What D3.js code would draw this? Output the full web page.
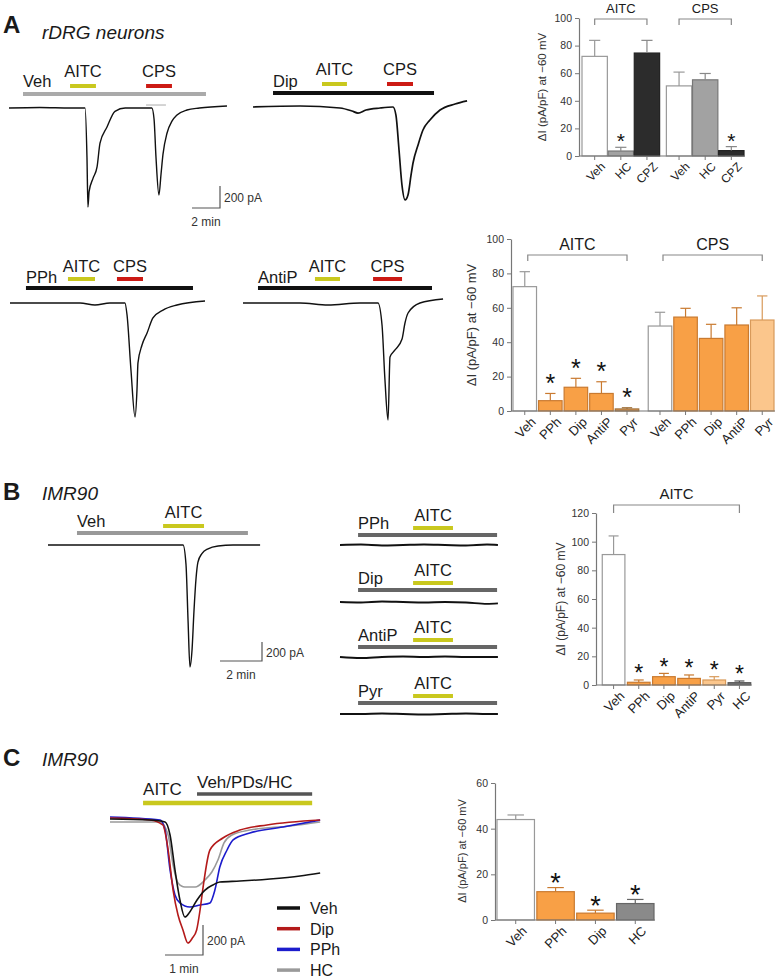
<!DOCTYPE html>
<html><head><meta charset="utf-8">
<script src="https://cdn.jsdelivr.net/npm/d3@7"></script>
<style>body{margin:0;background:#fff}</style>
</head><body>
<script>
// ================= DATA =================
// Panel A, top-right bar chart (rDRG neurons)
const aTopGroups = ["AITC", "CPS"];
const aTopTreat = ["Veh", "HC", "CPZ"];
const aTopAITC = [72.2, 3.6, 74.6];
const aTopAITCErr = [11.6, 2.7, 9.2];
const aTopCPS = [50.8, 55.2, 3.9];
const aTopCPSErr = [10, 4.6, 2.9];
const aTopSigAITC = [0, 1, 0];
const aTopSigCPS = [0, 0, 1];
const aTopTicks = [0, 20, 40, 60, 80, 100];

// Panel A, bottom-right bar chart
const aBotGroups = ["AITC", "CPS"];
const aBotTreat = ["Veh", "PPh", "Dip", "AntiP", "Pyr"];
const aBotAITC = [72.3, 6, 13.8, 10.2, 1.2];
const aBotAITCErr = [8.7, 4.2, 5.2, 6.8, 0.7];
const aBotCPS = [49.4, 54.6, 42.2, 50, 52.9];
const aBotCPSErr = [8, 5.1, 8.2, 10, 14];
const aBotSigAITC = [0, 1, 1, 1, 1];
const aBotTicks = [0, 20, 40, 60, 80, 100];

// Panel B bar chart (IMR90)
const bTreat = ["Veh", "PPh", "Dip", "AntiP", "Pyr", "HC"];
const bAITC = [91, 1.9, 5.8, 4.6, 3.5, 1.6];
const bAITCErr = [13, 1.6, 2.3, 2.4, 2.3, 1.2];
const bSig = [0, 1, 1, 1, 1, 1];
const bTicks = [0, 20, 40, 60, 80, 100, 120];

// Panel C bar chart
const cTreat = ["Veh", "PPh", "Dip", "HC"];
const cAITC = [44, 12.4, 3, 7.2];
const cAITCErr = [2, 1.8, 1.3, 1.8];
const cSig = [0, 1, 1, 1];
const cTicks = [0, 20, 40, 60];

// Current traces: [time (min), current (pA)]
const trAVeh = [[0,0],[2.2,5],[4.4,0],[5.43,0],[5.57,-450],[5.64,-900],[5.72,-760],[6.0,-640],[6.29,-536],[6.5,-320],[7.0,-173],[7.57,-30],[8.3,0],[10.2,0],[10.36,-100],[10.5,-450],[10.71,-791],[10.86,-600],[11.0,-420],[11.29,-227],[11.64,-120],[12.0,-64],[12.71,-18],[13.6,0],[15.57,18]];
const trAVehMark = [[9.79,27],[11.21,27]];
const trADip = [[0,0],[3.36,9],[6.21,-9],[7.07,-36],[7.5,-55],[8.07,-27],[9.07,-9],[10.0,0],[10.21,-73],[10.43,-391],[10.64,-709],[10.86,-845],[11.07,-800],[11.29,-618],[11.43,-509],[11.79,-345],[12.14,-209],[12.64,-118],[13.36,-27],[14.43,27],[15.29,55]];
const trAPPh = [[0,0],[2.86,0],[5,0],[6.07,-18],[7.14,0],[8.21,0],[8.36,-109],[8.64,-609],[8.93,-1036],[9.07,-791],[9.14,-545],[9.43,-382],[9.79,-273],[10.21,-136],[10.93,-64],[11.93,-18],[13.93,18]];
const trAAntiP = [[0,0],[4.07,0],[6.07,-18],[8.36,0],[9.64,0],[9.93,-200],[10.14,-700],[10.36,-1064],[10.5,-490],[10.86,-427],[11.36,-327],[11.57,-182],[11.79,-91],[12.64,0],[14.29,36]];
const trBVeh = [[0,0],[3.43,0],[6.43,0],[6.57,-200],[6.67,-800],[6.76,-1284],[6.86,-1100],[6.95,-700],[7.05,-350],[7.14,-180],[7.33,-90],[7.62,-40],[8.1,-10],[8.81,0],[10.1,0]];
const trBPPh = [[0,0],[1,5],[2,-5],[3,0],[4,5],[5,0],[6,-5],[7,5],[7.52,0]];
const trBDip = [[0,0],[1,-5],[2,5],[3,0],[4,-5],[5,0],[6,-5],[7,-20],[7.52,-15]];
const trBAntiP = [[0,0],[1,-10],[2,0],[3,5],[4,0],[5,5],[6,0],[7,0],[7.52,0]];
const trBPyr = [[0,0],[1,0],[2,5],[3,0],[4,-5],[5,0],[6,5],[7,0],[7.52,0]];
const trCVeh = [[0,7],[1.05,0],[1.45,-13],[1.58,-100],[1.71,-333],[1.84,-533],[1.97,-647],[2.1,-613],[2.29,-533],[2.5,-467],[2.71,-433],[2.89,-413],[3.42,-407],[4.21,-393],[5.0,-373],[5.53,-353]];
const trCDip = [[0,13],[1.05,0],[1.39,-33],[1.53,-200],[1.66,-467],[1.79,-633],[1.92,-733],[2.05,-820],[2.16,-790],[2.28,-733],[2.37,-600],[2.45,-447],[2.63,-200],[2.97,-120],[3.42,-67],[4.13,-33],[5.53,0]];
const trCPPh = [[0,20],[1.32,0],[1.45,-67],[1.58,-333],[1.71,-500],[1.84,-553],[2.1,-580],[2.37,-567],[2.63,-553],[2.76,-467],[2.89,-313],[3.08,-200],[3.24,-133],[3.68,-87],[4.55,-47],[5.53,0]];
const trCHC = [[0,-13],[1.32,-13],[1.53,-100],[1.66,-300],[1.79,-420],[1.97,-447],[2.24,-447],[2.5,-400],[2.68,-347],[2.84,-267],[3.0,-153],[3.21,-100],[3.68,-67],[4.74,-40],[5.53,-13]];

// ================= STYLE =================
const F = "'Liberation Sans', Arial, Helvetica, sans-serif";
const YEL = "#c9c81e", RED = "#cc1a14", ORANGE = "#f8a046", ORANGE_S = "#c97a30", LORANGE = "#fbc68c";

const svg = d3.select("body").append("svg").attr("width", 777).attr("height", 978).style("display", "block");

function label(x, y, s, o = {}) {
  return svg.append("text").attr("x", x).attr("y", y).text(s)
    .attr("font-family", F).attr("font-size", o.size || 16)
    .attr("font-weight", o.weight || "normal").attr("font-style", o.style || "normal")
    .attr("fill", o.fill || "#1a1a1a").attr("text-anchor", o.anchor || "start");
}

// ---------- trace panels ----------
function tracePanel(p) {
  const x = d3.scaleLinear().domain([0, 1]).range([p.x0, p.x0 + p.pxPerMin]);
  const y = d3.scaleLinear().domain([0, -1]).range([p.y0, p.y0 + p.pxPerPA]);
  const g = svg.append("g");
  (p.apps || []).forEach(a => {
    g.append("line").attr("x1", x(a.t[0])).attr("x2", x(a.t[1])).attr("y1", a.y).attr("y2", a.y)
      .attr("stroke", a.color).attr("stroke-width", a.w || 4);
    if (a.label) {
      const start = a.at === "start";
      label(start ? x(a.t[0]) : (x(a.t[0]) + x(a.t[1])) / 2, a.ly, a.label,
        { anchor: start ? "start" : "middle", size: a.size || 16.5 });
    }
  });
  const line = d3.line().x(d => x(d[0])).y(d => y(d[1])).curve(d3.curveMonotoneX);
  p.traces.forEach(t => {
    g.append("path").datum(t.pts).attr("fill", "none").attr("stroke", t.color)
      .attr("stroke-width", t.w || 1.4).attr("stroke-linejoin", "round").attr("d", line);
  });
  return { x, y };
}

function scaleBar(sb) {
  const x = d3.scaleLinear().domain([0, 1]).range([sb.x0, sb.x0 + sb.pxPerMin]);
  const y = d3.scaleLinear().domain([0, 1]).range([sb.y0, sb.y0 - sb.pxPerPA]);
  const xe = x(sb.min), yt = y(sb.pA);
  svg.append("path").attr("d", `M${x(0)},${y(0)}H${xe}V${yt}`).attr("fill", "none")
    .attr("stroke", "#555").attr("stroke-width", 1.2);
  label(xe + 4, (y(0) + yt) / 2 + 5, sb.pA + " pA", { size: 12, fill: "#333" });
  label((x(0) + xe) / 2, y(0) + 18, sb.min + " min", { size: 12, fill: "#333", anchor: "middle" });
}

// Panel A traces
tracePanel({ x0: 9, y0: 108, pxPerMin: 14, pxPerPA: 0.11,
  apps: [
    { t: [1.0, 14.07], color: "#aaaaaa", y: 94, label: "Veh", at: "start", ly: 87 },
    { t: [4.36, 6.21], color: YEL, y: 86, label: "AITC", ly: 77 },
    { t: [9.79, 11.64], color: RED, y: 86, label: "CPS", ly: 77 }],
  traces: [{ pts: trAVehMark, color: "#aaa", w: 1 }, { pts: trAVeh, color: "#111" }] });
tracePanel({ x0: 253, y0: 107, pxPerMin: 14, pxPerPA: 0.11,
  apps: [
    { t: [1.43, 12.93], color: "#111", y: 93, label: "Dip", at: "start", ly: 87 },
    { t: [4.93, 6.71], color: YEL, y: 84, label: "AITC", ly: 75 },
    { t: [9.57, 11.43], color: RED, y: 84, label: "CPS", ly: 75 }],
  traces: [{ pts: trADip, color: "#111", w: 1.7 }] });
tracePanel({ x0: 10, y0: 303, pxPerMin: 14, pxPerPA: 0.11,
  apps: [
    { t: [1.14, 13.07], color: "#111", y: 288, label: "PPh", at: "start", ly: 283 },
    { t: [4.14, 6.07], color: YEL, y: 279, label: "AITC", ly: 272 },
    { t: [7.64, 9.5], color: RED, y: 279, label: "CPS", ly: 272 }],
  traces: [{ pts: trAPPh, color: "#111" }] });
tracePanel({ x0: 243, y0: 303, pxPerMin: 14, pxPerPA: 0.11,
  apps: [
    { t: [1.07, 13.5], color: "#111", y: 288, label: "AntiP", at: "start", ly: 283 },
    { t: [5.14, 6.93], color: YEL, y: 279, label: "AITC", ly: 272 },
    { t: [9.29, 11.36], color: RED, y: 279, label: "CPS", ly: 272 }],
  traces: [{ pts: trAAntiP, color: "#111" }] });
scaleBar({ x0: 192, y0: 208, pxPerMin: 14, pxPerPA: 0.11, min: 2, pA: 200 });

// Panel B traces
tracePanel({ x0: 48, y0: 545, pxPerMin: 21, pxPerPA: 0.095,
  apps: [
    { t: [1.38, 9.52], color: "#999", y: 533, label: "Veh", at: "start", ly: 527 },
    { t: [5.48, 7.43], color: YEL, y: 526, label: "AITC", ly: 518 }],
  traces: [{ pts: trBVeh, color: "#111" }] });
const bSmall = [["PPh", trBPPh, 535, 545], ["Dip", trBDip, 590, 602], ["AntiP", trBAntiP, 647, 657], ["Pyr", trBPyr, 703, 714]];
bSmall.forEach(([nm, pts, yb, y0]) => {
  tracePanel({ x0: 340, y0: y0, pxPerMin: 21, pxPerPA: 0.095,
    apps: [
      { t: [0.86, 7.48], color: "#666", y: yb, label: nm, at: "start", ly: yb - 6 },
      { t: [3.48, 5.38], color: YEL, y: yb - 7, label: "AITC", ly: yb - 14.5 }],
    traces: [{ pts: pts, color: "#111", w: 1.9 }] });
});
scaleBar({ x0: 220, y0: 661, pxPerMin: 21, pxPerPA: 0.095, min: 2, pA: 200 });

// Panel C traces
tracePanel({ x0: 110, y0: 820, pxPerMin: 38, pxPerPA: 0.15,
  apps: [
    { t: [0.87, 5.32], color: YEL, y: 803, w: 4.5, label: "AITC", at: "start", ly: 795, size: 17 },
    { t: [2.29, 5.32], color: "#555", y: 794, w: 3.5, label: "Veh/PDs/HC", at: "start", ly: 788, size: 17 }],
  traces: [
    { pts: trCHC, color: "#9a9a9a", w: 1.6 },
    { pts: trCPPh, color: "#1c1ccc", w: 1.6 },
    { pts: trCDip, color: "#b41a1a", w: 1.6 },
    { pts: trCVeh, color: "#111", w: 1.6 }] });
scaleBar({ x0: 165, y0: 955, pxPerMin: 38, pxPerPA: 0.15, min: 1, pA: 200 });
const cLegend = [["Veh", "#111"], ["Dip", "#b41a1a"], ["PPh", "#1c1ccc"], ["HC", "#9a9a9a"]];
cLegend.forEach(([nm, col], i) => {
  const yy = 908 + i * 20.7;
  svg.append("line").attr("x1", 277).attr("x2", 300).attr("y1", yy).attr("y2", yy).attr("stroke", col).attr("stroke-width", 3.5);
  label(310, yy + 6, nm, { size: 16 });
});

// ---------- bar charts ----------
function yAxis(y, ticks, ax, fs) {
  const g = svg.append("g").attr("transform", `translate(${ax},0)`)
    .call(d3.axisLeft(y).tickValues(ticks).tickSize(4).tickSizeOuter(0).tickPadding(3));
  g.select(".domain").attr("stroke", "#777").attr("stroke-width", 1.2);
  g.selectAll(".tick line").attr("stroke", "#777");
  g.selectAll(".tick text").attr("font-family", F).attr("font-size", fs).attr("fill", "#333");
}
function yLabel(x, yc, fs) {
  svg.append("text").attr("transform", `translate(${x},${yc}) rotate(-90)`).attr("text-anchor", "middle")
    .attr("font-family", F).attr("font-size", fs).attr("fill", "#333").text("\u0394I (pA/pF) at \u221260 mV");
}
function drawBars(items, y, o) {
  items.forEach(d => {
    svg.append("rect").attr("x", d.x).attr("y", y(d.v)).attr("width", d.w).attr("height", y(0) - y(d.v))
      .attr("fill", d.fill).attr("stroke", d.stroke).attr("stroke-width", 1.2);
    const cx = d.x + d.w / 2, top = y(d.v + d.e);
    svg.append("line").attr("x1", cx).attr("x2", cx).attr("y1", y(d.v)).attr("y2", top).attr("stroke", d.err).attr("stroke-width", 1.2);
    svg.append("line").attr("x1", cx - d.w * 0.22).attr("x2", cx + d.w * 0.22).attr("y1", top).attr("y2", top).attr("stroke", d.err).attr("stroke-width", 1.2);
    if (d.sig) label(cx, top - o.starGap + 0.57 * o.starSize, "*", { anchor: "middle", size: o.starSize, fill: "#111" });
    svg.append("line").attr("x1", cx).attr("x2", cx).attr("y1", y(0)).attr("y2", y(0) + 4).attr("stroke", "#777");
    svg.append("text").attr("transform", `translate(${cx + 5},${y(0) + 5}) rotate(-45)`).attr("dy", "0.75em")
      .attr("text-anchor", "end").attr("font-family", F).attr("font-size", o.labelSize).attr("fill", "#222").text(d.label);
  });
  const xe = items.map(d => d.x + d.w);
  svg.append("line").attr("x1", o.axisX).attr("x2", d3.max(xe) + 1).attr("y1", y(0)).attr("y2", y(0)).attr("stroke", "#777").attr("stroke-width", 1.2);
}
function bracket(x1, x2, yTop, drop, text, ty, fs) {
  svg.append("path").attr("d", `M${x1},${yTop + drop}V${yTop}H${x2}V${yTop + drop}`).attr("fill", "none")
    .attr("stroke", "#888").attr("stroke-width", 1.2);
  label((x1 + x2) / 2, ty, text, { anchor: "middle", size: fs });
}
const styleOf = {
  Veh: ["#ffffff", "#999", "#999"], HC: ["#a2a2a2", "#777", "#888"], CPZ: ["#2c2c2c", "#222", "#888"],
  PPh: [ORANGE, ORANGE_S, ORANGE_S], Dip: [ORANGE, ORANGE_S, ORANGE_S], AntiP: [ORANGE, ORANGE_S, ORANGE_S],
  Pyr: [LORANGE, "#d89a5a", "#d89a5a"]
};
function item(x, w, v, e, sig, name, over) {
  const s = (over && over[name]) || styleOf[name];
  return { x, w, v, e, sig, label: name, fill: s[0], stroke: s[1], err: s[2] };
}

// A top
{
  const y = d3.scaleLinear().domain([0, 100]).range([156, 18]);
  const outer = d3.scaleBand().domain(aTopGroups).range([582, 744]).paddingInner(0.08);
  const inner = d3.scaleBand().domain(aTopTreat).range([0, outer.bandwidth()]).paddingInner(0.03);
  const vals = { AITC: [aTopAITC, aTopAITCErr, aTopSigAITC], CPS: [aTopCPS, aTopCPSErr, aTopSigCPS] };
  const items = [];
  aTopGroups.forEach(gn => aTopTreat.forEach((t, i) =>
    items.push(item(outer(gn) + inner(t), inner.bandwidth(), vals[gn][0][i], vals[gn][1][i], vals[gn][2][i], t))));
  drawBars(items, y, { starGap: 11, starSize: 21, labelSize: 12, axisX: 579 });
  yAxis(y, aTopTicks, 579, 10.5);
  yLabel(546, 87, 11.5);
  aTopGroups.forEach(gn => {
    const c0 = outer(gn) + inner(aTopTreat[0]) + inner.bandwidth() / 2;
    const c1 = outer(gn) + inner(aTopTreat[2]) + inner.bandwidth() / 2;
    bracket(c0, c1, 19, 6, gn, 13, 13);
  });
}
// A bottom
{
  const y = d3.scaleLinear().domain([0, 100]).range([411, 239]);
  const outer = d3.scaleBand().domain(aBotGroups).range([513, 774]).paddingInner(0.07);
  const inner = d3.scaleBand().domain(aBotTreat).range([0, outer.bandwidth()]).paddingInner(0.08);
  const vals = { AITC: [aBotAITC, aBotAITCErr, aBotSigAITC], CPS: [aBotCPS, aBotCPSErr, [0, 0, 0, 0, 0]] };
  const items = [];
  aBotGroups.forEach(gn => aBotTreat.forEach((t, i) =>
    items.push(item(outer(gn) + inner(t), inner.bandwidth(), vals[gn][0][i], vals[gn][1][i], vals[gn][2][i], t,
      gn === "AITC" ? { Pyr: ["#e09a55", "#a0703a", "#a0703a"] } : null))));
  drawBars(items, y, { starGap: 16, starSize: 25, labelSize: 13, axisX: 511 });
  yAxis(y, aBotTicks, 511, 10.5);
  yLabel(476, 325, 13);
  aBotGroups.forEach(gn => {
    const c0 = outer(gn) + inner(aBotTreat[0]) + inner.bandwidth() / 2;
    const c1 = outer(gn) + inner(aBotTreat[4]) + inner.bandwidth() / 2;
    bracket(c0 + 3, c1, 255, 6, gn, 250, 16);
  });
}
// B
{
  const y = d3.scaleLinear().domain([0, 120]).range([685, 513]);
  const x = d3.scaleBand().domain(bTreat).range([601, 752]).paddingInner(0.1).paddingOuter(0.05);
  const items = bTreat.map((t, i) => item(x(t), x.bandwidth(), bAITC[i], bAITCErr[i], bSig[i], t, { HC: ["#777", "#555", "#555"] }));
  drawBars(items, y, { starGap: 12, starSize: 23, labelSize: 13, axisX: 596 });
  yAxis(y, bTicks, 596, 10.5);
  yLabel(565, 599, 12);
  bracket(x("Veh") + x.bandwidth() / 2, x("HC") + x.bandwidth() / 2, 505, 8, "AITC", 499, 15);
}
// C
{
  const y = d3.scaleLinear().domain([0, 60]).range([920, 783]);
  const x = d3.scaleBand().domain(cTreat).range([497, 654]).paddingInner(0.06);
  const items = cTreat.map((t, i) => item(x(t), x.bandwidth(), cAITC[i], cAITCErr[i], cSig[i], t, { HC: ["#8a8a8a", "#666", "#666"] }));
  drawBars(items, y, { starGap: 11, starSize: 27, labelSize: 13, axisX: 495 });
  yAxis(y, cTicks, 495, 10.5);
  yLabel(466, 851, 11);
}

// Panel letters / titles
label(3, 33, "A", { size: 24, weight: "bold" });
label(42, 39, "rDRG neurons", { size: 19, style: "italic" });
label(3, 500, "B", { size: 24, weight: "bold" });
label(42, 500, "IMR90", { size: 19, style: "italic" });
label(3, 766, "C", { size: 24, weight: "bold" });
label(42, 766, "IMR90", { size: 19, style: "italic" });
</script>
</body></html>
